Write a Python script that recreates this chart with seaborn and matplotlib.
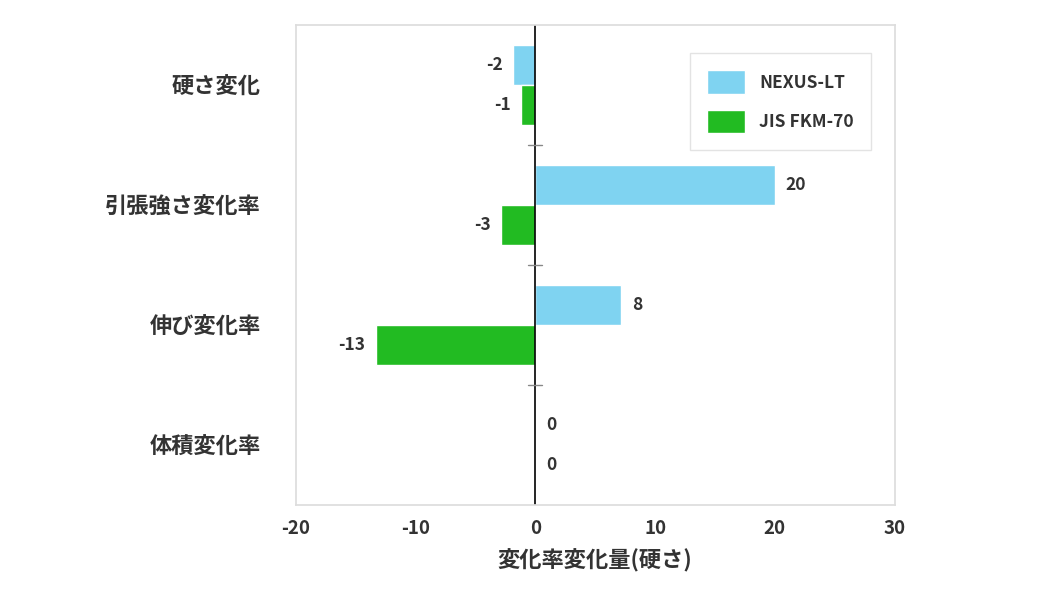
import matplotlib
matplotlib.use("Agg")
import matplotlib.pyplot as plt
import seaborn as sns
import pandas as pd

categories = ["硬さ変化", "引張強さ変化率", "伸び変化率", "体積変化率"]
series_names = ["NEXUS-LT", "JIS FKM-70"]
nexus_values = [-1.83, 20.0, 7.17, 0.0]
jis_values = [-1.17, -2.83, -13.33, 0.0]
nexus_labels = ["-2", "20", "8", "0"]
jis_labels = ["-1", "-3", "-13", "0"]
colors = ["#7fd3f1", "#22bb22"]

sns.set_theme(style="white")
plt.rcParams['font.family'] = ['Noto Sans CJK JP', 'DejaVu Sans']
plt.rcParams['axes.unicode_minus'] = False

df = pd.DataFrame({
    "cat": categories * 2,
    "val": nexus_values + jis_values,
    "series": [series_names[0]] * 4 + [series_names[1]] * 4,
})

fig = plt.figure(figsize=(10.6, 6), dpi=100)
ax = fig.add_axes([0.279, 0.158, 0.565, 0.8])
sns.barplot(data=df, y="cat", x="val", hue="series", orient="h",
            palette=colors, width=0.667, ax=ax, saturation=1, errorbar=None)

ax.set_xlim(-20, 30)
ax.set_ylim(3.5, -0.5)
ax.set_xticks([-20, -10, 0, 10, 20, 30])
ax.tick_params(axis="x", length=6, color="#cccccc", labelsize=13.5, colors="#333333", pad=4)
ax.tick_params(axis="y", length=0, labelsize=16, colors="#333333", pad=25)
for lab in ax.get_xticklabels() + ax.get_yticklabels():
    lab.set_fontweight("bold")
ax.set_ylabel("")
ax.set_xlabel("変化率変化量(硬さ)", fontsize=16, fontweight="bold", color="#333333", labelpad=8)
for s in ax.spines.values():
    s.set_color("#dddddd")
ax.axvline(0, color="black", lw=1.2)
for i in range(len(categories) - 1):
    ax.plot([-0.6, 0.6], [i + 0.5, i + 0.5], color="#888888", lw=1)

offsets = [-1 / 6, 1 / 6]
for j, (vals, labs) in enumerate([(nexus_values, nexus_labels), (jis_values, jis_labels)]):
    for i, (v, lab) in enumerate(zip(vals, labs)):
        if v < 0:
            ax.text(v - 0.9, i + offsets[j], lab, ha="right", va="center",
                    fontsize=12.5, fontweight="bold", color="#333333")
        else:
            ax.text(v + 0.9, i + offsets[j], lab, ha="left", va="center",
                    fontsize=12.5, fontweight="bold", color="#333333")

leg = ax.legend(loc="upper right", bbox_to_anchor=(0.975, 0.96), frameon=True,
                fontsize=12.5, handlelength=2.2, handleheight=1.7, borderpad=1.0,
                labelspacing=0.9, edgecolor="#dddddd", fancybox=False, title=None)
for t in leg.get_texts():
    t.set_fontweight("bold")
    t.set_color("#333333")

fig.savefig("out.png", dpi=100)
